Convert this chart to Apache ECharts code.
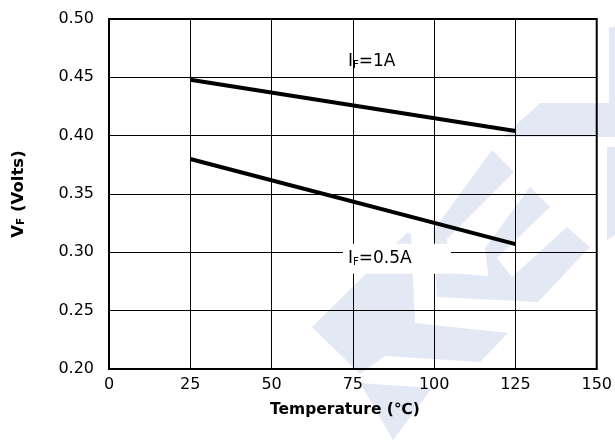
<!DOCTYPE html>
<html><head><meta charset="utf-8">
<script src="https://cdn.jsdelivr.net/npm/echarts@6/dist/echarts.min.js"></script>
<style>html,body{margin:0;padding:0;background:#fff}#c{width:615px;height:443px}</style>
</head><body><div id="c"></div>
<script>
// data
const temps = [25, 125];
const vf1A = [0.448, 0.404];
const vf05A = [0.380, 0.307];
const xMin = 0, xMax = 150, xStep = 25;
const yMin = 0.20, yMax = 0.50, yStep = 0.05;
const label1A = {x: 73.5, y: 0.4635, text: '1A'};
const label05A = {x: 73.5, y: 0.2945, text: '0.5A'};

const FONT = '"DejaVu Sans", sans-serif';
const wm = '#e2e9f5';
const wmShapes = [
  [[312,327],[407,233],[411,234],[415,323],[508,333],[480,362],[385,356],[360,374]],
  [[360,383],[432,388],[393,440]],
  [[492,150],[514,172],[447,239],[449,273],[540,280],[538,302],[437,297],[433,231]],
  [[530,187],[550,207],[497,258],[512,277],[567,227],[590,247],[538,302],[490,290],[485,248]],
  [[503,137],[540,103],[615,103],[615,137]],
  [[609,27],[615,27],[615,137],[609,137]],
  [[607,147],[615,147],[615,235],[607,240]]
];

const chart = echarts.init(document.getElementById('c'), null, {renderer: 'canvas'});
const rich = {
  m: {fontFamily: FONT, fontSize: 17, color: '#000'},
  s: {fontFamily: FONT, fontSize: 10, color: '#000', verticalAlign: 'bottom', padding: [8, 0, 0, 0]}
};
chart.setOption({
  animation: false,
  backgroundColor: '#fff',
  grid: {left: 109, right: 16, top: 19, bottom: 74, show: true, borderColor: '#000', borderWidth: 2, backgroundColor: 'transparent', z: 6},
  xAxis: {
    type: 'value', min: xMin, max: xMax, interval: xStep, z: 5,
    name: 'Temperature (℃)', nameLocation: 'middle', nameGap: 33,
    nameTextStyle: {fontFamily: FONT, fontSize: 15.5, fontWeight: 'bold', color: '#000', padding: [0, 16, 0, 0]},
    axisLine: {show: false}, axisTick: {show: false},
    axisLabel: {fontFamily: FONT, fontSize: 16, color: '#000', margin: 8},
    splitLine: {show: true, lineStyle: {color: '#000', width: 1}}
  },
  yAxis: {
    type: 'value', min: yMin, max: yMax, interval: yStep, z: 5,
    name: '{b|V}{bs|F}{b| (Volts)}', nameLocation: 'middle', nameGap: 82,
    nameTextStyle: {rich: {
      b: {fontFamily: FONT, fontSize: 16.5, fontWeight: 'bold', color: '#000'},
      bs: {fontFamily: FONT, fontSize: 10.5, fontWeight: 'bold', color: '#000', verticalAlign: 'bottom', padding: [6, 0, 0, 0]}
    }},
    axisLine: {show: false}, axisTick: {show: false},
    axisLabel: {fontFamily: FONT, fontSize: 16, color: '#000', margin: 15, formatter: v => v.toFixed(2)},
    splitLine: {show: true, lineStyle: {color: '#000', width: 1}}
  },
  series: [
    {type: 'line', data: temps.map((t, i) => [t, vf1A[i]]), showSymbol: false, lineStyle: {color: '#000', width: 4}, z: 7},
    {type: 'line', data: temps.map((t, i) => [t, vf05A[i]]), showSymbol: false, lineStyle: {color: '#000', width: 4}, z: 7}
  ]
});

const p1 = chart.convertToPixel({gridIndex: 0}, [label1A.x, label1A.y]);
const p2 = chart.convertToPixel({gridIndex: 0}, [label05A.x, label05A.y]);
const graphics = wmShapes.map(pts => ({type: 'polygon', silent: true, z: -10, shape: {points: pts}, style: {fill: wm}}));
graphics.push({type: 'text', x: p1[0], y: p1[1], z: 100, style: {text: '{m|I}{s|F}{m|=' + label1A.text + '}', rich: rich, verticalAlign: 'middle'}});
graphics.push({type: 'rect', x: p2[0] - 5, y: p2[1] - 15, z: 90, shape: {width: 108, height: 30}, style: {fill: '#fff'}});
graphics.push({type: 'text', x: p2[0], y: p2[1], z: 100, style: {text: '{m|I}{s|F}{m|=' + label05A.text + '}', rich: rich, verticalAlign: 'middle'}});
chart.setOption({graphic: {elements: graphics}});
</script></body></html>
